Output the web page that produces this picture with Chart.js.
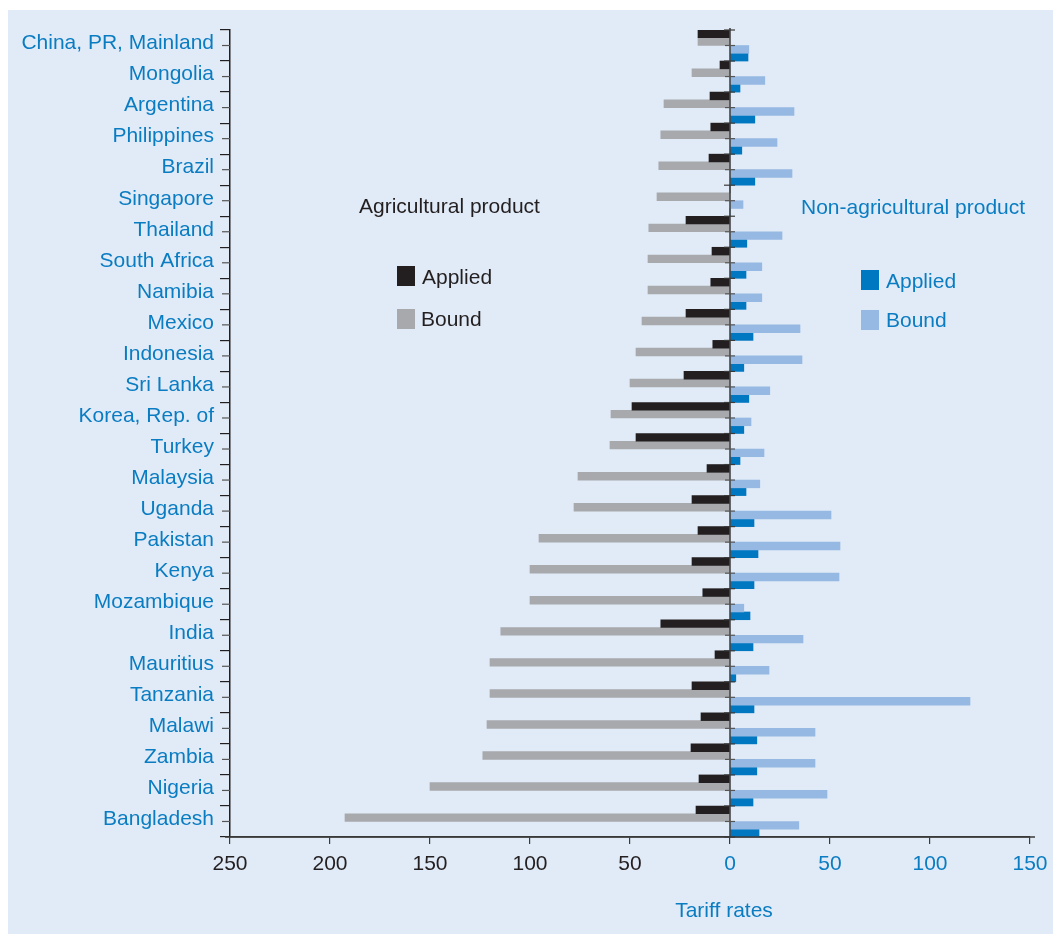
<!DOCTYPE html>
<html>
<head>
<meta charset="utf-8">
<script src="https://cdn.jsdelivr.net/npm/chart.js@4.4.0/dist/chart.umd.min.js"></script>
<style>
html,body{margin:0;padding:0;background:#ffffff;}
#wrap{position:relative;width:1053px;height:934px;}
</style>
</head>
<body>
<div id="wrap"><canvas id="c"></canvas></div>
<script>
const categories = ["China, PR, Mainland","Mongolia","Argentina","Philippines","Brazil","Singapore","Thailand","South Africa","Namibia","Mexico","Indonesia","Sri Lanka","Korea, Rep. of","Turkey","Malaysia","Uganda","Pakistan","Kenya","Mozambique","India","Mauritius","Tanzania","Malawi","Zambia","Nigeria","Bangladesh"];
const agApplied   = [16, 5, 10, 9.6, 10.5, 0, 22, 9, 9.6, 22, 8.6, 23, 49, 47, 11.5, 19, 16, 19, 13.6, 34.6, 7.5, 19, 14.5, 19.5, 15.5, 17];
const agBound     = [16, 19, 33, 34.6, 35.6, 36.5, 40.6, 41, 41, 44, 47, 50, 59.5, 60, 76, 78, 95.5, 100, 100, 114.6, 120, 120, 121.5, 123.6, 150, 192.5];
const nonAgBound  = [9.4, 17.4, 32, 23.5, 31, 6.5, 26, 15.9, 15.9, 35, 36, 19.9, 10.5, 17, 14.9, 50.5, 55, 54.5, 6.9, 36.5, 19.5, 120, 42.5, 42.5, 48.5, 34.4];
const nonAgApplied= [9, 5, 12.4, 5.9, 12.4, 0, 8.4, 8, 8, 11.5, 6.9, 9.4, 6.9, 5, 8, 12, 14, 12, 10, 11.5, 2.9, 12, 13.4, 13.4, 11.5, 14.5];
const xTicks = [-250, -200, -150, -100, -50, 0, 50, 100, 150];

const BLACK = '#231f20', GRAY = '#a7a9ac', BLUE = '#0078c1', LBLUE = '#95b9e3', TXTBLUE = '#0a7cc2', BG = '#e1ebf7';
const FONT = '"Liberation Sans", Arial, Helvetica, sans-serif';

const decor = {
  id: 'decor',
  beforeDraw(chart) {
    const ctx = chart.ctx;
    ctx.save();
    ctx.fillStyle = '#ffffff';
    ctx.fillRect(0, 0, chart.width, chart.height);
    ctx.fillStyle = BG;
    ctx.fillRect(8, 10, chart.width - 8, chart.height - 10);
    ctx.restore();
  },
  afterDatasetsDraw(chart) {
    const ctx = chart.ctx;
    const xs = chart.scales.x, ys = chart.scales.y;
    const ca = chart.chartArea;
    const x0 = xs.getPixelForValue(0);
    ctx.save();
    // zero axis line
    ctx.strokeStyle = '#3a3a3a';
    ctx.lineWidth = 1.5;
    ctx.beginPath();
    ctx.moveTo(x0, ca.top - 2);
    ctx.lineTo(x0, ca.bottom);
    ctx.stroke();
    // bottom axis slight overhang
    ctx.beginPath();
    ctx.moveTo(ca.left - 5, ca.bottom);
    ctx.lineTo(ca.right + 5, ca.bottom);
    ctx.stroke();
    // ticks on zero axis and middle ticks on left axis
    const n = categories.length;
    const step = (ca.bottom - ca.top) / n;
    ctx.lineWidth = 1.2;
    for (let i = 0; i <= n; i++) {
      const yb = ca.top + i * step;
      ctx.strokeStyle = '#3a3a3a';
      ctx.beginPath(); ctx.moveTo(x0 - 6, yb); ctx.lineTo(x0 + 5, yb); ctx.stroke();
      if (i < n) {
        const ym = ys.getPixelForValue(i);
        ctx.strokeStyle = '#555';
        ctx.beginPath(); ctx.moveTo(x0 - 5, ym); ctx.lineTo(x0 + 5, ym); ctx.stroke();
        ctx.beginPath(); ctx.moveTo(ca.left - 8, ym); ctx.lineTo(ca.left, ym); ctx.stroke();
      }
    }
    // annotation texts
    ctx.font = '21px ' + FONT;
    ctx.textBaseline = 'middle';
    ctx.textAlign = 'left';
    ctx.fillStyle = BLACK;
    ctx.fillText('Agricultural product', 359, 207);
    ctx.fillText('Applied', 422, 278);
    ctx.fillText('Bound', 421, 320);
    ctx.fillStyle = BLACK; ctx.fillRect(397, 266, 18, 20);
    ctx.fillStyle = GRAY; ctx.fillRect(397, 309, 18, 20);
    ctx.fillStyle = TXTBLUE;
    ctx.fillText('Non-agricultural product', 801, 208);
    ctx.fillText('Applied', 886, 282);
    ctx.fillText('Bound', 886, 321);
    ctx.fillStyle = BLUE; ctx.fillRect(861, 270, 18, 20);
    ctx.fillStyle = LBLUE; ctx.fillRect(861, 310, 18, 20);
    ctx.fillStyle = TXTBLUE;
    ctx.textAlign = 'center';
    ctx.fillText('Tariff rates', xs.getPixelForValue(-3), 911);
    ctx.restore();
  }
};

new Chart(document.getElementById('c'), {
  type: 'bar',
  data: {
    labels: categories,
    datasets: [
      { label: 'Agricultural Applied', data: agApplied.map(v => -v), backgroundColor: BLACK },
      { label: 'Agricultural Bound', data: agBound.map(v => -v), backgroundColor: GRAY },
      { label: 'Non-agricultural Bound', data: nonAgBound, backgroundColor: LBLUE },
      { label: 'Non-agricultural Applied', data: nonAgApplied, backgroundColor: BLUE }
    ]
  },
  options: {
    indexAxis: 'y',
    responsive: true,
    maintainAspectRatio: false,
    animation: false,
    categoryPercentage: 1,
    barPercentage: 1,
    layout: { padding: { top: 30, right: 23, left: 0, bottom: 0 } },
    plugins: { legend: { display: false }, tooltip: { enabled: false } },
    scales: {
      x: {
        min: -250, max: 150,
        afterBuildTicks(scale) { scale.ticks = xTicks.map(v => ({ value: v })); },
        afterFit(scale) { scale.height = 97; scale.paddingRight = 0; scale.paddingLeft = 0; },
        grid: { display: true, drawOnChartArea: false, drawTicks: true, tickLength: 7, color: '#3a3a3a', lineWidth: 1.2 },
        border: { display: true, color: '#3a3a3a', width: 1.5 },
        ticks: {
          padding: 8,
          font: { family: FONT, size: 21 },
          color: (c) => (c.tick && c.tick.value < 0) ? BLACK : TXTBLUE,
          callback: (v) => Math.abs(v)
        }
      },
      y: {
        afterFit(scale) { scale.width = 230; scale.paddingTop = 0; scale.paddingBottom = 0; },
        grid: { display: true, offset: true, drawOnChartArea: false, drawTicks: true, tickLength: 10, color: BLACK, lineWidth: 1.2 },
        border: { display: true, color: BLACK, width: 1.5 },
        ticks: {
          padding: 6,
          labelOffset: -2,
          font: { family: FONT, size: 21 },
          color: TXTBLUE,
          autoSkip: false
        }
      }
    }
  },
  plugins: [decor]
});
</script>
</body>
</html>
